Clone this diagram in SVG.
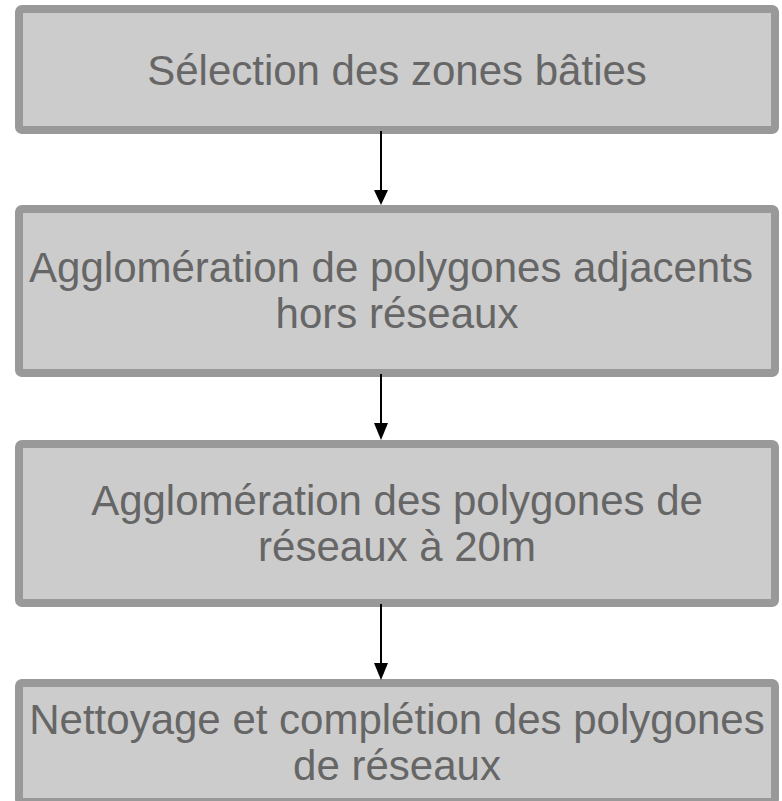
<svg xmlns="http://www.w3.org/2000/svg" width="782" height="801" viewBox="0 0 782 801">
<style>
.box{fill:#cccccc;stroke:#999999;stroke-width:8}
.lbl{font-family:"Liberation Sans",Arial,sans-serif;font-size:42px;fill:#666666;text-anchor:middle}
.conn line{stroke:#000000;stroke-width:2}
.conn polygon{fill:#000000}
</style>
<rect width="782" height="801" fill="#ffffff"/>
<g id="n1">
<rect class="box" x="19" y="9" width="756" height="121" rx="3"/>
<text class="lbl" x="397" y="85">Sélection des zones bâties</text>
</g>
<g id="n2">
<rect class="box" x="19" y="209" width="756" height="164" rx="3"/>
<text class="lbl" x="391" y="282">Agglomération de polygones adjacents</text>
<text class="lbl" x="397" y="328">hors réseaux</text>
</g>
<g id="n3">
<rect class="box" x="19" y="444" width="756" height="159" rx="3"/>
<text class="lbl" x="397" y="515">Agglomération des polygones de</text>
<text class="lbl" x="397" y="561">réseaux à 20m</text>
</g>
<g id="n4">
<rect class="box" x="19" y="683" width="756" height="119" rx="3"/>
<text class="lbl" x="397" y="734">Nettoyage et complétion des polygones</text>
<text class="lbl" x="397" y="780">de réseaux</text>
</g>
<g id="connectors" class="conn">
<line x1="381" y1="131" x2="381" y2="191"/>
<polygon points="374,190 388,190 381,205"/>
<line x1="381" y1="374" x2="381" y2="424"/>
<polygon points="374,423 388,423 381,440"/>
<line x1="381" y1="604" x2="381" y2="664"/>
<polygon points="374,663 388,663 381,680"/>
</g>
</svg>
